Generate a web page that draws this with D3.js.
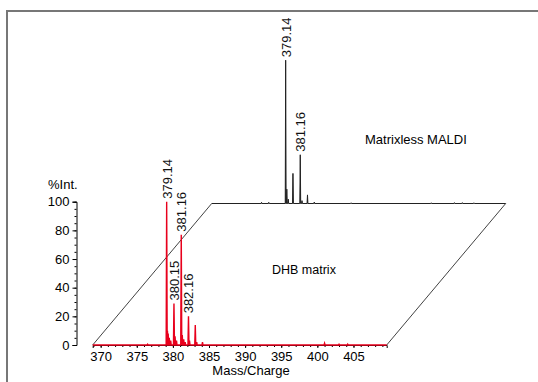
<!DOCTYPE html>
<html>
<head>
<meta charset="utf-8">
<script src="https://cdn.jsdelivr.net/npm/d3@7"></script>
<style>
  body { margin: 0; background: #fff; }
  svg { display: block; font-family: "Liberation Sans", Arial, sans-serif; }
</style>
</head>
<body>
<div class="chart-wrapper"></div>
<script>
// front spectrum (DHB matrix): m/z and relative intensity
const dhbMz  = [376.5, 379.14, 379.25, 379.35, 379.5, 379.7, 380.15, 380.3, 380.5, 381.16, 381.3, 381.5, 381.7, 382.16, 382.3, 383.1, 383.3, 384.1, 401.0, 403.0, 404.2];
const dhbInt = [0.5, 100, 10, 8, 5, 3, 29, 6, 3, 77, 7, 4, 2, 20, 3, 14, 2, 2, 1.2, 0.5, 0.6];
const dhbLabels = [
  { mz: 379.14, int: 100, text: "379.14" },
  { mz: 380.15, int: 29, text: "380.15" },
  { mz: 381.16, int: 77, text: "381.16" },
  { mz: 382.16, int: 20, text: "382.16" }
];

// back spectrum (matrixless MALDI)
const mlMz  = [375.8, 376.8, 379.14, 379.3, 379.5, 380.15, 381.16, 381.4, 382.16, 383.1, 388.2, 399.3, 402.5, 403.6, 405.2];
const mlInt = [0.8, 0.8, 100, 10, 3, 21, 34, 2, 6, 1, 0.5, 0.5, 0.6, 0.6, 0.5];
const mlLabels = [
  { mz: 379.14, int: 100, text: "379.14" },
  { mz: 381.16, int: 34, text: "381.16" }
];

const xTicks = [370, 375, 380, 385, 390, 395, 400, 405];
const yTicks = [0, 20, 40, 60, 80, 100];

const width = 538, height = 382;
const xDomain = [368.9, 409.6];
const depth = { dx: 119, dy: -141.5 };

const svg = d3.select(".chart-wrapper")
  .append("svg")
  .attr("width", width)
  .attr("height", height);

// frame (top and left only)
svg.append("path")
  .attr("d", "M7,382 L7,11 L538,11")
  .attr("fill", "none")
  .attr("stroke", "#777")
  .attr("stroke-width", 2);

const x = d3.scaleLinear().domain(xDomain).range([92.7, 386.7]);
const y = d3.scaleLinear().domain([0, 100]).range([345, 201.7]);

// build a stick spectrum path along the baseline
function spectrumPath(mz, ints, w) {
  const pts = mz.map((m, i) => ({ m, v: ints[i] })).sort((a, b) => a.m - b.m);
  let d = `M${x(xDomain[0])},${y(0)}`;
  pts.forEach(p => {
    d += `L${x(p.m - w)},${y(0)}L${x(p.m)},${y(p.v)}L${x(p.m + w)},${y(0)}`;
  });
  d += `L${x(xDomain[1])},${y(0)}`;
  return d;
}

// back plane group
const back = svg.append("g")
  .attr("transform", `translate(${depth.dx},${depth.dy})`);

back.append("path")
  .attr("d", spectrumPath(mlMz, mlInt, 0.06))
  .attr("fill", "#111")
  .attr("stroke", "#222")
  .attr("stroke-width", 1)
  .attr("stroke-linejoin", "miter");

back.selectAll(".ml-label")
  .data(mlLabels)
  .enter()
  .append("text")
  .attr("class", "ml-label")
  .attr("transform", d => `translate(${x(d.mz) + 5},${y(d.int) - 3}) rotate(-90)`)
  .attr("font-size", 13)
  .attr("fill", "#111")
  .text(d => d.text);

// parallelogram sides
const x0 = x(xDomain[0]), x1 = x(xDomain[1]), yb = y(0);
svg.append("path")
  .attr("d", `M${x0},${yb}L${x0 + depth.dx},${yb + depth.dy}M${x1},${yb}L${x1 + depth.dx},${yb + depth.dy}`)
  .attr("fill", "none")
  .attr("stroke", "#111")
  .attr("stroke-width", 0.8);

// y axis
const yAxis = svg.append("g")
  .attr("transform", `translate(76.5,0)`)
  .call(d3.axisLeft(y).tickValues(yTicks).tickSize(4).tickPadding(3));
svg.append("g")
  .attr("transform", `translate(76.5,0)`)
  .call(d3.axisLeft(y).tickValues(d3.range(0, 101, 5)).tickSize(2).tickFormat(""))
  .call(g => g.select(".domain").remove());
yAxis.selectAll("text").attr("font-size", 13).attr("font-family", "Liberation Sans, Arial, sans-serif");

svg.append("text")
  .attr("x", 48)
  .attr("y", 189)
  .attr("font-size", 13)
  .text("%Int.");

// x axis
const xAxis = svg.append("g")
  .attr("transform", `translate(0,${yb})`)
  .call(d3.axisBottom(x).tickValues(xTicks).tickSize(3).tickPadding(4));
svg.append("g")
  .attr("transform", `translate(0,${yb})`)
  .call(d3.axisBottom(x).tickValues(d3.range(369, 410, 1)).tickSize(2).tickFormat(""))
  .call(g => g.select(".domain").remove());
xAxis.selectAll("text").attr("font-size", 13).attr("font-family", "Liberation Sans, Arial, sans-serif");

svg.append("text")
  .attr("x", 251)
  .attr("y", 375)
  .attr("text-anchor", "middle")
  .attr("font-size", 13)
  .text("Mass/Charge");

// front spectrum
svg.append("path")
  .attr("d", spectrumPath(dhbMz, dhbInt, 0.07))
  .attr("fill", "#e8001c")
  .attr("stroke", "#e8001c")
  .attr("stroke-width", 1.4);

svg.selectAll(".dhb-label")
  .data(dhbLabels)
  .enter()
  .append("text")
  .attr("class", "dhb-label")
  .attr("transform", d => `translate(${x(d.mz) + 5},${y(d.int) - 3}) rotate(-90)`)
  .attr("font-size", 13)
  .attr("fill", "#111")
  .text(d => d.text);

// plane labels
svg.append("text")
  .attr("x", 365)
  .attr("y", 144)
  .attr("font-size", 13)
  .text("Matrixless MALDI");

svg.append("text")
  .attr("x", 272)
  .attr("y", 274)
  .attr("font-size", 12.5)
  .text("DHB matrix");
</script>
</body>
</html>
